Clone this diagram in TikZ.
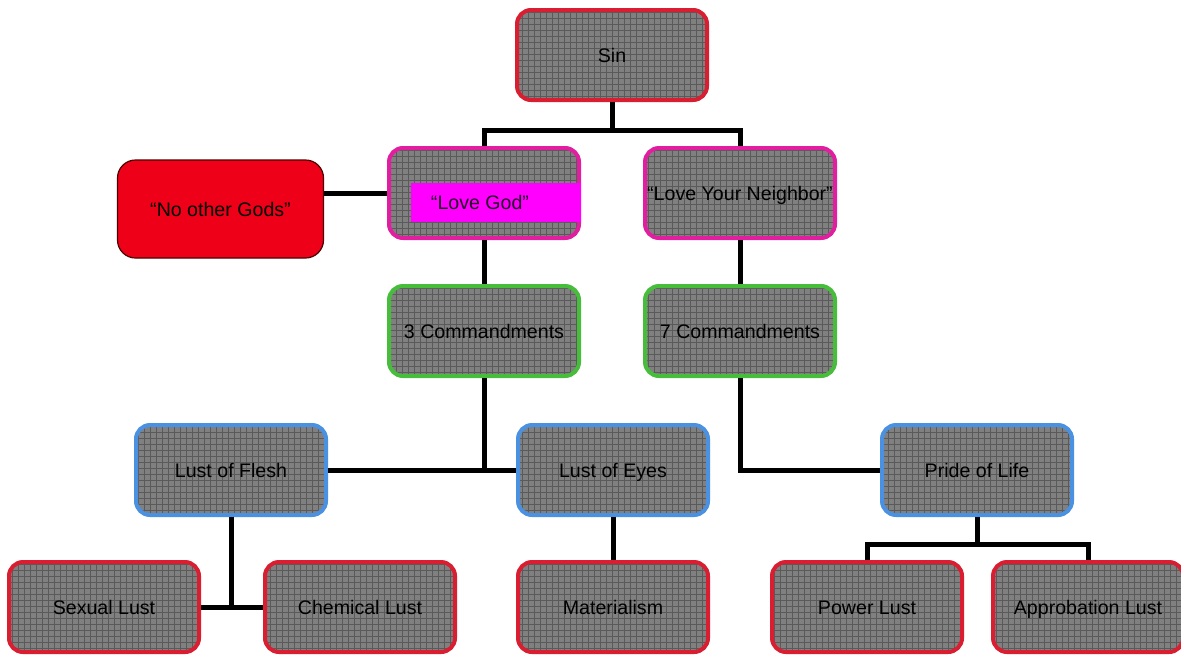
\documentclass[tikz,border=0pt]{standalone}
\usepackage{fontspec}
\setmainfont{Liberation Sans}
\usetikzlibrary{patterns}

\definecolor{sinred}{RGB}{216,30,48}
\definecolor{lovepink}{RGB}{226,30,160}
\definecolor{cmdgreen}{RGB}{70,190,60}
\definecolor{lustblue}{RGB}{75,145,225}
\definecolor{boxgray}{RGB}{128,128,128}
\definecolor{gridgray}{RGB}{90,90,90}
\definecolor{godsred}{RGB}{238,0,24}
\definecolor{tagmagenta}{RGB}{255,0,255}
\definecolor{tagtext}{RGB}{35,0,40}

\begin{document}
\begin{tikzpicture}[x=0.5pt,y=-0.5pt,
  box/.style={rectangle,rounded corners=7pt,line width=2pt,
    minimum width=95pt,minimum height=45pt,inner sep=0pt,
    text height=8pt,text depth=1pt,
    font=\fontsize{9.8}{11}\selectfont,
    preaction={fill=boxgray},pattern=grid,pattern color=gridgray},
  sinbox/.style={box,draw=sinred},
  lovebox/.style={box,draw=lovepink},
  cmdbox/.style={box,draw=cmdgreen},
  lustbox/.style={box,draw=lustblue},
  link/.style={line width=2.5pt,black}]
  \useasboundingbox (0,0) rectangle (1181,654);
  \coordinate (sinc) at (612,55);
  \coordinate (lovegodc) at (484,193);
  \coordinate (neighborc) at (740,193);
  \coordinate (cmdthreec) at (484,331);
  \coordinate (cmdsevenc) at (740,331);
  \coordinate (fleshc) at (231,470);
  \coordinate (eyesc) at (613,470);
  \coordinate (pridec) at (977,470);
  % boxes
  \node[sinbox] (sin) at (sinc) {Sin};
  \node[lovebox] (lovegod) at (lovegodc) {};
  \node[fill=tagmagenta,minimum width=85pt,minimum height=19.5pt,inner sep=0pt,
    text=tagtext,text height=8pt,text depth=1pt,font=\fontsize{9.8}{11}\selectfont]
    (lovegodtag) at (496,202.5) {\hspace*{-16pt}“Love God”};
  \node[rectangle,rounded corners=9pt,fill=godsred,draw=black!70!red,line width=0.6pt,
    minimum width=103pt,minimum height=49pt,text height=8pt,text depth=1pt,
    font=\fontsize{9.8}{11}\selectfont]
    (noother) at (220.5,209) {“No other Gods”};
  \node[lovebox] (neighbor) at (neighborc) {“Love Your Neighbor”};
  \node[cmdbox] (cmdthree) at (cmdthreec) {3 Commandments};
  \node[cmdbox] (cmdseven) at (cmdsevenc) {7 Commandments};
  \node[lustbox] (flesh) at (fleshc) {Lust of Flesh};
  \node[lustbox] (eyes) at (eyesc) {Lust of Eyes};
  \node[lustbox] (pride) at (pridec) {Pride of Life};
  \node[sinbox] (sexual) at (104,607) {Sexual Lust};
  \node[sinbox] (chemical) at (360,607) {Chemical Lust};
  \node[sinbox] (materialism) at (613,607) {Materialism};
  \node[sinbox] (power) at (867,607) {Power Lust};
  \node[sinbox] (approbation) at (1088,607) {Approbation Lust};
  % connectors
  \draw[link] (sin.south) -- ++(0,28) coordinate (sinfork);
  \draw[link] (lovegod.north) |- (sinfork) -| (neighbor.north);
  \draw[link] (noother.east |- lovegod.west) -- (lovegod.west);
  \draw[link] (lovegod.south) -- (cmdthree.north);
  \draw[link] (neighbor.south) -- (cmdseven.north);
  \draw[link] (flesh.east) -- (eyes.west);
  \draw[link] (cmdthree.south) -- (cmdthree.south |- flesh.east);
  \draw[link] (cmdseven.south) |- (pride.west);
  \draw[link] (sexual.east) -- (chemical.west);
  \draw[link] (flesh.south) -- (flesh.south |- sexual.east);
  \draw[link] (eyes.south) -- (materialism.north);
  \draw[link] (pride.south) -- ++(0,27) coordinate (pridefork);
  \draw[link] (power.north) |- (pridefork) -| (approbation.north);
\end{tikzpicture}
\end{document}
